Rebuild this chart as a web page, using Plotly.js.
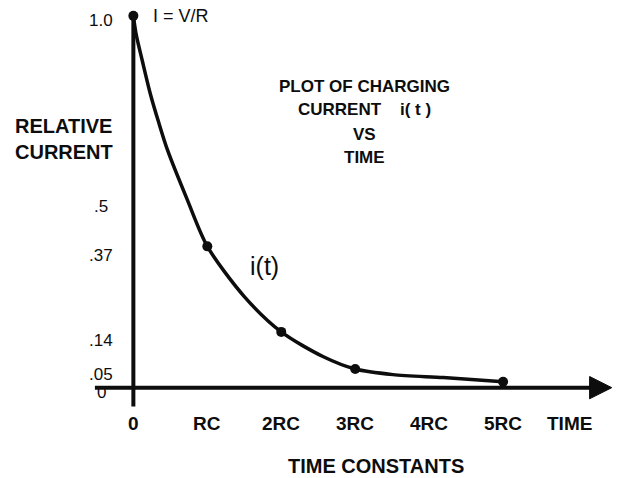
<!DOCTYPE html>
<html>
<head>
<meta charset="utf-8">
<script src="https://cdn.plot.ly/plotly-3.0.1.min.js"></script>
<style>html,body{margin:0;padding:0;background:#fff;}</style>
</head>
<body>
<div id="chart" style="width:617px;height:478px;"></div>
<script>
// Curve (time in RC units, relative current)
const curveT = [0, 0.04, 0.12, 0.23, 0.34, 0.46, 0.73, 1, 1.5, 2, 2.57, 3, 3.51, 4.19, 5];
const curveI = [1.0, 0.948, 0.88, 0.79, 0.715, 0.64, 0.505, 0.38, 0.245, 0.15, 0.083, 0.05, 0.035, 0.027, 0.016];
// Marked points
const dotT = [0, 1, 2, 3, 5];
const dotI = [1.0, 0.38, 0.15, 0.05, 0.016];
// Tick labels
const xTickVals = [0, 1, 2, 3, 4, 5, 5.9];
const xTickText = ['0', 'RC', '2RC', '3RC', '4RC', '5RC', 'TIME'];
const yTickVals = [1.0, 0.5, 0.37, 0.14, 0.05, 0];
const yTickText = ['1.0', '.5', '.37', '.14', '.05', '0'];
const titleLines = ['PLOT OF CHARGING', 'CURRENT\u00a0\u00a0\u00a0 i(\u00a0t\u00a0)', 'VS', 'TIME'];

const ink = '#0d0d0d';
const fontFam = 'Liberation Sans, Arial, sans-serif';

const traces = [
  {x: curveT, y: curveI, mode: 'lines', line: {color: ink, width: 3.5, shape: 'spline', smoothing: 0.8}, hoverinfo: 'skip', cliponaxis: false},
  {x: dotT, y: dotI, mode: 'markers', marker: {color: ink, size: 10}, hoverinfo: 'skip', cliponaxis: false}
];

const annotations = [];
xTickVals.forEach((v, i) => annotations.push({
  x: v, y: 0, xref: 'x', yref: 'y', yshift: -36, text: '<b>' + xTickText[i] + '</b>', showarrow: false,
  xanchor: 'center', yanchor: 'middle', font: {family: fontFam, size: 19, color: ink}
}));
yTickVals.forEach((v, i) => annotations.push({
  x: 0, y: v, xref: 'x', yref: 'y', xshift: -32, yshift: -5, text: yTickText[i], showarrow: false,
  xanchor: 'center', yanchor: 'middle', font: {family: fontFam, size: 17, color: ink}
}));
const titleY = [0.811, 0.747, 0.682, 0.618];
titleLines.forEach((t, i) => annotations.push({
  x: 3.13, y: titleY[i], xref: 'x', yref: 'y', text: '<b>' + t + '</b>', showarrow: false,
  xanchor: 'center', yanchor: 'middle', font: {family: fontFam, size: 17, color: ink}
}));
annotations.push({x: 0, y: 1.0, xref: 'x', yref: 'y', xshift: 18, text: 'I = V/R', showarrow: false,
  xanchor: 'left', yanchor: 'middle', font: {family: fontFam, size: 18, color: ink}});
annotations.push({x: -0.145, y: 0.70, xref: 'paper', yref: 'paper', text: '<b>RELATIVE<br>CURRENT</b>', showarrow: false,
  xanchor: 'left', yanchor: 'middle', align: 'left', font: {family: fontFam, size: 20, color: ink}});
annotations.push({x: 1.78, y: 0.327, xref: 'x', yref: 'y', text: 'i(t)', showarrow: false,
  xanchor: 'center', yanchor: 'middle', font: {family: fontFam, size: 25, color: ink}});
annotations.push({x: 0.546, y: -0.009, xref: 'paper', yref: 'paper', text: '<b>TIME CONSTANTS</b>', showarrow: false,
  xanchor: 'center', yanchor: 'middle', font: {family: fontFam, size: 20, color: ink}});

const shapes = [
  {type: 'line', xref: 'x', yref: 'y', x0: 0, x1: 0, y0: -0.051, y1: 1.005, line: {color: ink, width: 4}},
  {type: 'line', xref: 'x', yref: 'y', x0: -0.52, x1: 6.25, y0: 0, y1: 0, line: {color: ink, width: 4}},
  {type: 'path', xref: 'x', yref: 'y', path: 'M 6.17 0.03 L 6.47 0 L 6.17 -0.03 Z', fillcolor: ink, line: {color: ink, width: 1}}
];

const layout = {
  width: 617, height: 478,
  margin: {l: 89, r: 3, t: 1, b: 16, pad: 0},
  paper_bgcolor: '#ffffff', plot_bgcolor: '#ffffff',
  showlegend: false,
  xaxis: {range: [-0.6, 6.5], visible: false, fixedrange: true},
  yaxis: {range: [-0.2, 1.04], visible: false, fixedrange: true},
  shapes: shapes,
  annotations: annotations
};

Plotly.newPlot('chart', traces, layout, {displayModeBar: false, staticPlot: true});
</script>
</body>
</html>
